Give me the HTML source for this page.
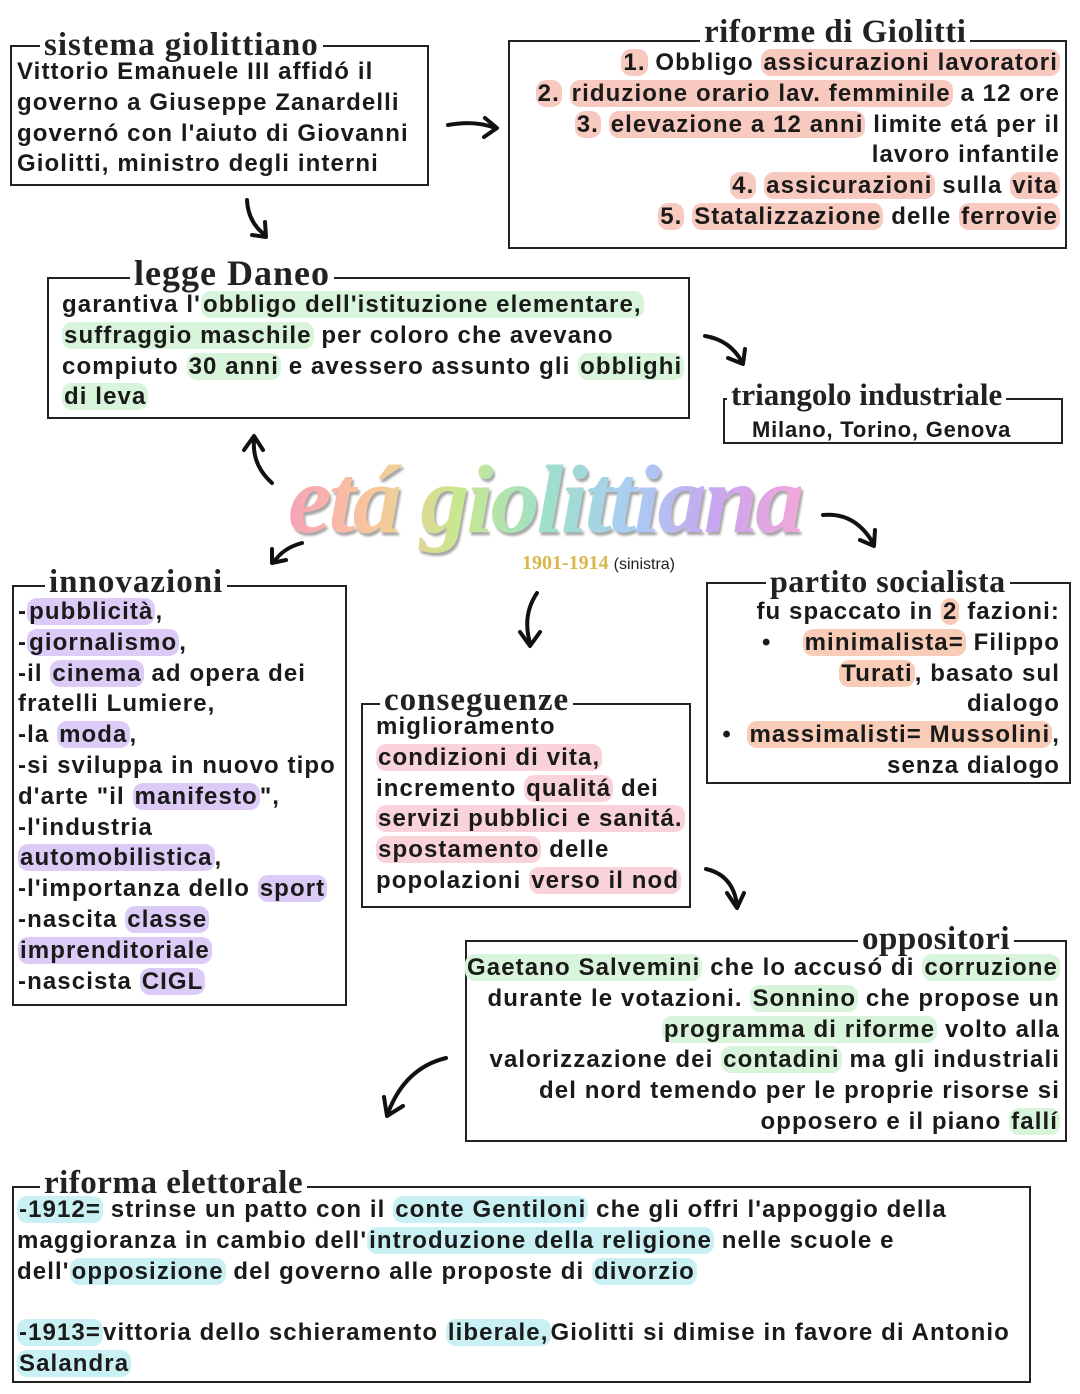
<!DOCTYPE html>
<html><head><meta charset="utf-8"><style>
body{margin:0;width:1080px;height:1394px;background:#fff;position:relative;overflow:hidden;font-family:"Liberation Sans",sans-serif;color:#1a1a1a}
.box{position:absolute;border:2px solid #222;box-sizing:border-box}
.t{position:absolute;font-family:"Liberation Serif",serif;font-weight:bold;font-size:33px;background:#fff;padding:0 4px;line-height:30px;color:#222;white-space:nowrap;letter-spacing:0.5px}
.tx{position:absolute;font-size:24px;font-weight:bold;line-height:30.8px;white-space:nowrap;letter-spacing:1.1px}
.r{text-align:right}
.p{background:#f7c9bf;border-radius:10px;padding:0 2px}
.g{background:#d8f4da;border-radius:10px;padding:0 2px}
.v{background:#dccbf6;border-radius:10px;padding:0 2px}
.k{background:#f9d3d9;border-radius:10px;padding:0 2px}
.o{background:#f8ccb6;border-radius:10px;padding:0 2px}
.c{background:#c9f1f4;border-radius:10px;padding:0 2px}
</style></head><body>

<div class="box" style="left:10px;top:45px;width:419px;height:141px"></div>
<div class="t" style="left:40px;top:30px;letter-spacing:1px">sistema giolittiano</div>
<div class="tx" style="left:17px;top:57px">Vittorio Emanuele III affidó il<br>governo a Giuseppe Zanardelli<br>governó con l'aiuto di Giovanni<br>Giolitti, ministro degli interni</div>

<div class="box" style="left:508px;top:40px;width:559px;height:209px"></div>
<div class="t" style="left:700px;top:17px">riforme di Giolitti</div>
<div class="tx r" style="right:20px;top:48px">
<span class="p">1.</span> Obbligo <span class="p">assicurazioni lavoratori</span><br>
<span class="p">2.</span> <span class="p">riduzione orario lav. femminile</span> a 12 ore<br>
<span class="p">3.</span> <span class="p">elevazione a 12 anni</span> limite etá per il<br>
lavoro infantile<br>
<span class="p">4.</span> <span class="p">assicurazioni</span> sulla <span class="p">vita</span><br>
<span class="p">5.</span> <span class="p">Statalizzazione</span> delle <span class="p">ferrovie</span></div>

<div class="box" style="left:47px;top:277px;width:643px;height:142px"></div>
<div class="t" style="left:130px;top:258px;font-size:36px;letter-spacing:1px">legge Daneo</div>
<div class="tx" style="left:62px;top:290px">garantiva l'<span class="g">obbligo dell'istituzione elementare,</span><br><span class="g">suffraggio maschile</span> per coloro che avevano<br>compiuto <span class="g">30 anni</span> e avessero assunto gli <span class="g">obblighi</span><br><span class="g">di leva</span></div>

<div class="box" style="left:723px;top:398px;width:340px;height:46px"></div>
<div class="t" style="left:727px;top:380px;font-size:31px;letter-spacing:0">triangolo industriale</div>
<div class="tx" style="left:752px;top:415px;font-size:22px;letter-spacing:0.8px">Milano, Torino, Genova</div>

<div style="position:absolute;left:288px;top:444px;font-family:'Liberation Serif',serif;font-style:italic;font-weight:bold;font-size:98px;letter-spacing:-3px;white-space:nowrap;background:linear-gradient(90deg,#f6a3b8,#f9c79a,#c8e88f,#9fe0c9,#a9cdf3,#c8a6ef,#f1a7d8);-webkit-background-clip:text;background-clip:text;color:transparent;filter:drop-shadow(2px 3px 1px rgba(0,0,0,.35))">etá giolittiana</div>
<div style="position:absolute;left:522px;top:552px;font-size:20px;font-family:'Liberation Serif',serif;font-weight:bold;color:#d8b84a">1901-1914 <span style="font-size:16px;color:#222;font-family:'Liberation Sans';font-weight:normal">(sinistra)</span></div>

<div class="box" style="left:12px;top:585px;width:335px;height:421px"></div>
<div class="t" style="left:45px;top:567px;letter-spacing:1px">innovazioni</div>
<div class="tx" style="left:18px;top:597px">-<span class="v">pubblicità</span>,<br>-<span class="v">giornalismo</span>,<br>-il <span class="v">cinema</span> ad opera dei<br>fratelli Lumiere,<br>-la <span class="v">moda</span>,<br>-si sviluppa in nuovo tipo<br>d'arte "il <span class="v">manifesto</span>",<br>-l'industria<br><span class="v">automobilistica</span>,<br>-l'importanza dello <span class="v">sport</span><br>-nascita <span class="v">classe</span><br><span class="v">imprenditoriale</span><br>-nascista <span class="v">CIGL</span></div>

<div class="box" style="left:361px;top:703px;width:330px;height:205px"></div>
<div class="t" style="left:380px;top:685px;letter-spacing:1px">conseguenze</div>
<div class="tx" style="left:376px;top:712px">miglioramento<br><span class="k">condizioni di vita,</span><br>incremento <span class="k">qualitá</span> dei<br><span class="k">servizi pubblici e sanitá.</span><br><span class="k">spostamento</span> delle<br>popolazioni <span class="k">verso il nod</span></div>

<div class="box" style="left:706px;top:582px;width:365px;height:202px"></div>
<div class="t" style="left:766px;top:566px;font-size:32px">partito socialista</div>
<div class="tx r" style="right:20px;top:597px">fu spaccato in <span class="o">2</span> fazioni:<br>•&nbsp;&nbsp;&nbsp;&nbsp;<span class="o">minimalista=</span> Filippo<br><span class="o">Turati</span>, basato sul<br>dialogo<br>•&nbsp;&nbsp;<span class="o">massimalisti= Mussolini</span>,<br>senza dialogo</div>

<div class="box" style="left:465px;top:940px;width:602px;height:202px"></div>
<div class="t" style="left:858px;top:924px">oppositori</div>
<div class="tx r" style="right:20px;top:953px"><span class="g">Gaetano Salvemini</span> che lo accusó di <span class="g">corruzione</span><br>durante le votazioni. <span class="g">Sonnino</span> che propose un<br><span class="g">programma di riforme</span> volto alla<br>valorizzazione dei <span class="g">contadini</span> ma gli industriali<br>del nord temendo per le proprie risorse si<br>opposero e il piano <span class="g">fallí</span></div>

<div class="box" style="left:12px;top:1186px;width:1019px;height:197px"></div>
<div class="t" style="left:40px;top:1168px">riforma elettorale</div>
<div class="tx" style="left:17px;top:1195px"><span class="c">-1912=</span> strinse un patto con il <span class="c">conte Gentiloni</span> che gli offri l'appoggio della<br>maggioranza in cambio dell'<span class="c">introduzione della religione</span> nelle scuole e<br>dell'<span class="c">opposizione</span> del governo alle proposte di <span class="c">divorzio</span><br><br><span class="c">-1913=</span>vittoria dello schieramento <span class="c">liberale,</span>Giolitti si dimise in favore di Antonio<br><span class="c">Salandra</span></div>

<svg width="1080" height="1394" style="position:absolute;left:0;top:0" fill="none" stroke="#111" stroke-width="4" stroke-linecap="round" stroke-linejoin="round">
<path d="M448 125 Q475 120 495 128"/><path d="M485 118 L497 128 L484 137"/>
<path d="M247 200 Q248 222 265 235"/><path d="M252 235 L266 237 L265 222"/>
<path d="M705 336 Q730 340 742 362"/><path d="M728 358 L743 364 L745 349"/>
<path d="M272 483 Q252 465 254 440"/><path d="M244 450 L254 436 L263 450"/>
<path d="M302 543 Q283 548 274 562"/><path d="M272 549 L272 563 L286 560"/>
<path d="M823 515 Q855 512 873 543"/><path d="M860 540 L874 546 L875 530"/>
<path d="M537 593 Q522 615 530 643"/><path d="M520 632 L530 646 L540 632"/>
<path d="M706 869 Q733 875 737 905"/><path d="M727 893 L737 908 L744 893"/>
<path d="M446 1058 Q405 1068 388 1113"/><path d="M384 1097 L387 1116 L403 1106"/>
</svg>
</body></html>
